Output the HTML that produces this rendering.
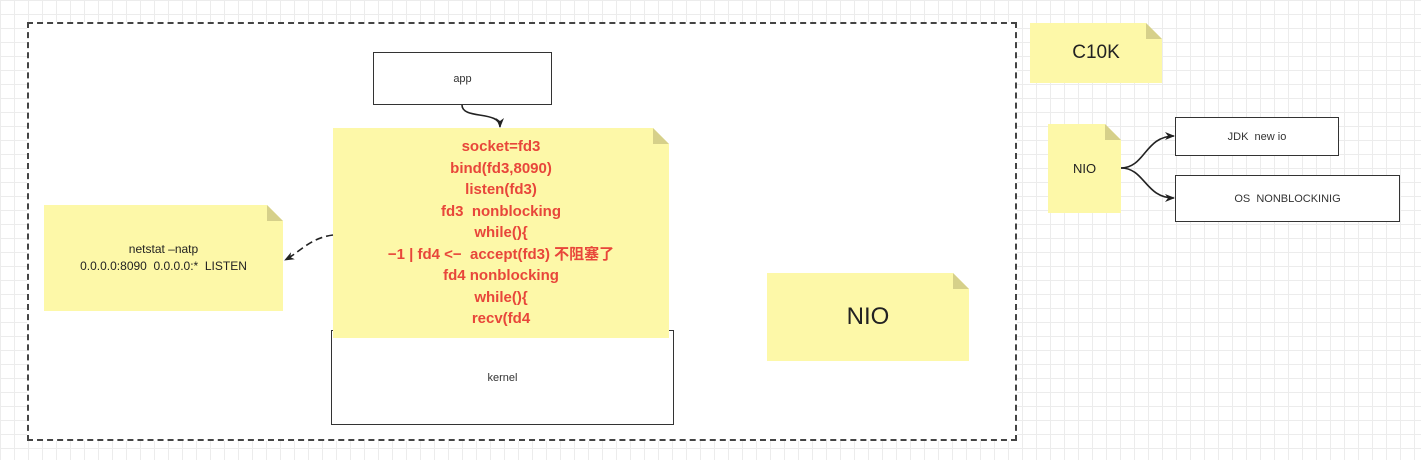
<!DOCTYPE html>
<html><head><meta charset="utf-8"><style>
body{margin:0;width:1421px;height:460px;overflow:hidden;background:#fff;
background-image:linear-gradient(#ececec 1px,transparent 1px),linear-gradient(90deg,#ececec 1px,transparent 1px);background-size:14px 14px;
font-family:"Liberation Sans","Noto Sans CJK SC",sans-serif;position:relative}
.a{position:absolute;box-sizing:border-box}
.box{background:#fff;border:1.5px solid #333;display:flex;align-items:center;justify-content:center;font-size:11px;color:#333}
.note{background:#fdf8a8;clip-path:polygon(0 0,calc(100% - 16px) 0,100% 16px,100% 100%,0 100%);display:flex;align-items:center;justify-content:center;text-align:center;color:#222}
.fold{position:absolute;width:16px;height:16px;background:#d6d08a;clip-path:polygon(0 0,100% 100%,0 100%)}
</style></head><body>
<div class="a" style="left:27px;top:22px;width:990px;height:419px;border:2px dashed #444;background:#fff"></div>
<div class="a box" style="left:373px;top:52px;width:179px;height:53px">app</div>
<div class="a box" style="left:331px;top:330px;width:343px;height:95px;padding-top:0">kernel</div>
<div class="a note" style="left:333px;top:128px;width:336px;height:210px;color:#e8463a;font-weight:bold;font-size:15px;line-height:21.5px">
<div>socket=fd3<br>bind(fd3,8090)<br>listen(fd3)<br>fd3&nbsp;&nbsp;nonblocking<br>while(){<br>−1 | fd4 &lt;−&nbsp;&nbsp;accept(fd3)&nbsp;不阻塞了<br>fd4 nonblocking<br>while(){<br>recv(fd4</div></div>
<div class="fold" style="left:653px;top:128px"></div>
<div class="a note" style="left:44px;top:205px;width:239px;height:106px;font-size:12px;line-height:17px"><div>netstat –natp<br>0.0.0.0:8090&nbsp;&nbsp;0.0.0.0:*&nbsp;&nbsp;LISTEN</div></div>
<div class="fold" style="left:267px;top:205px"></div>
<div class="a note" style="left:767px;top:273px;width:202px;height:88px;font-size:24px"><div>NIO</div></div>
<div class="fold" style="left:953px;top:273px"></div>
<div class="a note" style="left:1030px;top:23px;width:132px;height:60px;font-size:19px"><div>C10K</div></div>
<div class="fold" style="left:1146px;top:23px"></div>
<div class="a note" style="left:1048px;top:124px;width:73px;height:89px;font-size:13px"><div>NIO</div></div>
<div class="fold" style="left:1105px;top:124px"></div>
<div class="a box" style="left:1175px;top:117px;width:164px;height:39px">JDK&nbsp;&nbsp;new io</div>
<div class="a box" style="left:1175px;top:175px;width:225px;height:47px">OS&nbsp;&nbsp;NONBLOCKINIG</div>
<svg class="a" style="left:0;top:0" width="1421" height="460">
<defs><marker id="m" markerWidth="10" markerHeight="8" refX="9" refY="4" orient="auto" markerUnits="userSpaceOnUse"><path d="M0,0 L10,4 L0,8 L3,4Z" fill="#222"/></marker></defs>
<path d="M462,105 C462,120 500,110 500,127" fill="none" stroke="#222" stroke-width="1.6" marker-end="url(#m)"/>
<path d="M333,235 C310,238 300,252 285,260" fill="none" stroke="#222" stroke-width="1.6" stroke-dasharray="7,4" marker-end="url(#m)"/>
<path d="M1121,168 C1145,168 1145,136 1174,136" fill="none" stroke="#222" stroke-width="1.6" marker-end="url(#m)"/>
<path d="M1121,168 C1145,168 1145,198 1174,198" fill="none" stroke="#222" stroke-width="1.6" marker-end="url(#m)"/>
</svg>
</body></html>
